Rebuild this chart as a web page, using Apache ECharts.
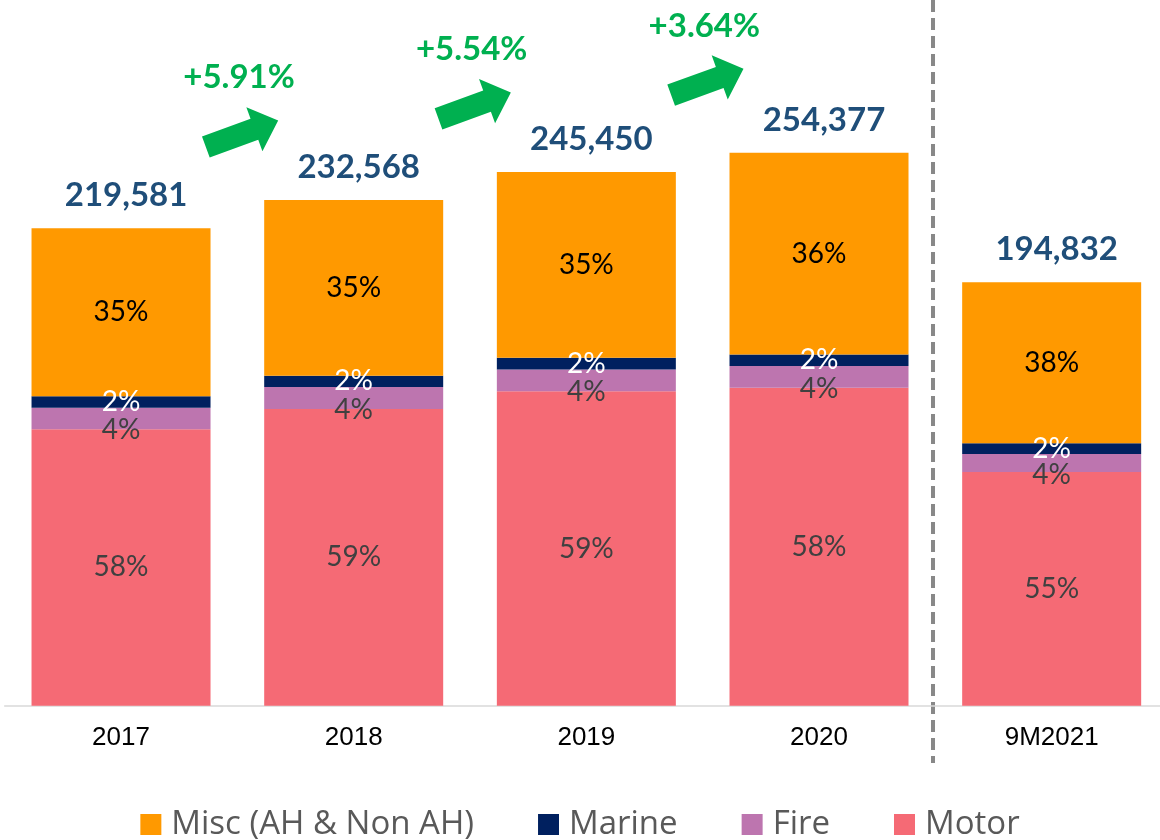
<!DOCTYPE html>
<html>
<head>
<meta charset="utf-8">
<script src="https://cdn.jsdelivr.net/npm/echarts@6/dist/echarts.min.js"></script>
<style>
html,body{margin:0;padding:0;background:#fff;}
#chart{width:1160px;height:840px;}
</style>
</head>
<body>
<div id="chart"></div>
<script>
// ---- data ----
const categories = ['2017', '2018', '2019', '2020', '9M2021'];
const totals = [219581, 232568, 245450, 254377, 194832];
const motor = [127200, 136500, 144600, 146300, 107500];
const fire = [9900, 10100, 10100, 10000, 8300];
const marine = [5200, 5200, 5300, 5200, 4900];
const misc = [77300, 80800, 85500, 92900, 74100];
const motorPct = ['58%', '59%', '59%', '58%', '55%'];
const firePct = ['4%', '4%', '4%', '4%', '4%'];
const marinePct = ['2%', '2%', '2%', '2%', '2%'];
const miscPct = ['35%', '35%', '35%', '36%', '38%'];
const growth = ['+5.91%', '+5.54%', '+3.64%'];
const seriesNames = ['Misc (AH & Non AH)', 'Marine', 'Fire', 'Motor'];

// ---- styling ----
const C_MISC = '#ff9900', C_MARINE = '#00205f', C_FIRE = '#bd75af', C_MOTOR = '#f56a75';
const LBL_FONT = 'Lato';
const ARROW_LIFT = 37000; // vertical lift of growth arrows above the pair's mean total (value units)

const chart = echarts.init(document.getElementById('chart'), null, {renderer: 'canvas'});

function pctLabel(arr, color, extra) {
  return Object.assign({
    show: true,
    position: 'inside',
    formatter: p => arr[p.dataIndex],
    color: color,
    fontFamily: LBL_FONT,
    fontSize: 28
  }, extra || {});
}

const arrowData = growth.map((g, i) => [i + 0.52, (totals[i] + totals[i + 1]) / 2 + ARROW_LIFT]);

const option = {
  animation: false,
  backgroundColor: '#ffffff',
  grid: {left: 4.7, width: 1163.3, top: 53.5, bottom: 134.3, containLabel: false, outerBoundsMode: 'none'},
  xAxis: [{
    type: 'category',
    data: categories,
    axisLine: {show: true, lineStyle: {color: '#d9d9d9', width: 1.5}},
    axisTick: {show: false},
    axisLabel: {color: '#000', fontFamily: 'Liberation Sans', fontSize: 26, margin: 19}
  }, {
    type: 'value', min: -0.5, max: 4.5, show: false
  }],
  yAxis: {type: 'value', min: 0, max: 300000, show: false, splitLine: {show: false}},
  legend: {
    data: seriesNames,
    left: 'center',
    top: 803,
    icon: 'rect',
    itemWidth: 21,
    itemHeight: 21,
    itemGap: 64,
    selectedMode: false,
    textStyle: {fontFamily: 'Open Sans', fontSize: 33, color: '#595959', padding: [0, 0, 0, 5]}
  },
  series: [
    {
      name: 'Motor', type: 'bar', stack: 'g', data: motor, barWidth: 179,
      itemStyle: {color: C_MOTOR},
      label: pctLabel(motorPct, '#404040')
    },
    {
      name: 'Fire', type: 'bar', stack: 'g', data: fire, barWidth: 179,
      itemStyle: {color: C_FIRE},
      label: pctLabel(firePct, '#404040', {offset: [0, 12]})
    },
    {
      name: 'Marine', type: 'bar', stack: 'g', data: marine, barWidth: 179,
      itemStyle: {color: C_MARINE},
      label: pctLabel(marinePct, '#ffffff')
    },
    {
      name: 'Misc (AH & Non AH)', type: 'bar', stack: 'g', data: misc, barWidth: 179,
      itemStyle: {color: C_MISC},
      label: pctLabel(miscPct, '#000000')
    },
    {
      // totals above bars
      name: 'totals', type: 'bar', stack: 'g', data: totals.map(() => 0), barWidth: 179,
      itemStyle: {color: 'transparent'},
      label: {
        show: true, position: 'top', distance: 16, offset: [5, 0],
        formatter: p => totals[p.dataIndex].toLocaleString('en-US'),
        color: '#1f4e79', fontFamily: LBL_FONT, fontWeight: 'bold', fontSize: 33
      }
    },
    {
      name: 'growth', type: 'scatter', xAxisIndex: 1, yAxisIndex: 0,
      data: arrowData,
      symbol: 'path://M0,12 L51,12 L51,0 L76,23 L51,46 L51,34 L0,34 Z',
      symbolSize: [77, 47],
      symbolRotate: 20,
      itemStyle: {color: '#00b050', opacity: 1},
      label: {
        show: true, position: 'inside', offset: [-3, -56],
        formatter: p => growth[p.dataIndex],
        color: '#00b050', fontFamily: LBL_FONT, fontWeight: 'bold', fontSize: 33
      },
      silent: true
    }
  ]
};
chart.setOption(option);

// dashed separator between the full years and the 9-month period
const sepX = chart.convertToPixel({xAxisIndex: 1}, 3.49);
chart.setOption({
  graphic: [{
    type: 'line', silent: true,
    shape: {x1: sepX, y1: 0, x2: sepX, y2: 763},
    style: {stroke: '#888888', lineWidth: 4, lineDash: [12, 6]}
  }]
});
</script>
</body>
</html>
